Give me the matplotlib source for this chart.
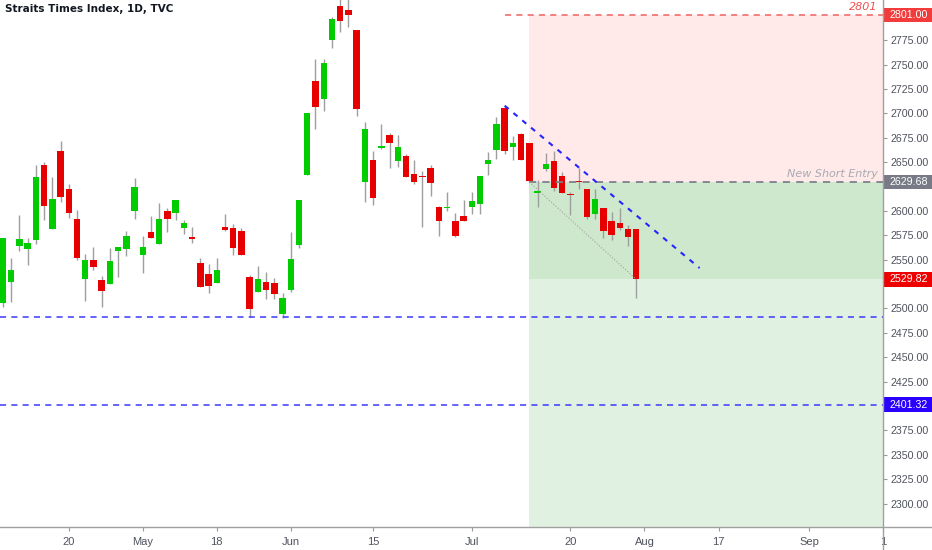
import matplotlib.pyplot as plt
import matplotlib.transforms as mtransforms
from matplotlib.patches import Rectangle
from matplotlib.lines import Line2D
import numpy as np

plt.rcParams['font.family'] = ['Liberation Sans', 'DejaVu Sans']

# daily candles (bar index 0 .. 77)
opens = [2506.0, 2527.5, 2564.4, 2561.0, 2570.3, 2647.2, 2581.5, 2661.5, 2622.6, 2591.8,
         2530.3, 2549.7, 2529.2, 2525.1, 2559.0, 2561.0, 2600.0, 2554.9, 2578.5, 2566.2,
         2600.0, 2597.9, 2582.6, 2573.3, 2546.7, 2535.4, 2526.2, 2583.6, 2582.9, 2579.5,
         2532.6, 2517.2, 2527.2, 2526.5, 2494.1, 2519.3, 2565.1, 2637.2, 2733.6, 2714.9,
         2775.7, 2810.5, 2805.8, 2785.3, 2629.7, 2652.6, 2664.9, 2677.9, 2651.0, 2656.4,
         2638.3, 2635.9, 2644.1, 2603.8, 2603.1, 2589.4, 2594.9, 2603.8, 2607.5, 2648.5,
         2662.3, 2705.3, 2665.3, 2679.0, 2669.7, 2618.2, 2643.4, 2651.6, 2635.9, 2617.4,
         2630.3, 2622.3, 2596.6, 2603.4, 2589.4, 2587.7, 2581.2, 2581.2]
highs = [2572.0, 2551.5, 2595.9, 2572.3, 2647.2, 2650.3, 2634.9, 2671.8, 2627.7, 2601.0,
         2555.9, 2563.1, 2533.3, 2562.1, 2563.1, 2579.5, 2633.8, 2574.4, 2594.9, 2608.2,
         2603.1, 2611.3, 2590.8, 2583.6, 2551.8, 2545.6, 2551.8, 2596.6, 2587.0, 2582.3,
         2534.4, 2543.9, 2537.1, 2531.3, 2516.2, 2578.2, 2611.3, 2700.2, 2755.6, 2755.9,
         2799.3, 2818.0, 2818.0, 2785.3, 2691.0, 2661.5, 2688.9, 2679.7, 2677.9, 2658.5,
         2652.6, 2641.0, 2647.2, 2605.1, 2619.5, 2597.6, 2611.3, 2619.2, 2636.2, 2660.5,
         2696.1, 2708.0, 2676.9, 2680.0, 2669.7, 2631.8, 2659.2, 2661.8, 2640.3, 2619.8,
         2644.4, 2622.3, 2622.6, 2603.4, 2599.0, 2603.1, 2585.9, 2581.2]
lows = [2501.8, 2506.4, 2559.3, 2544.6, 2566.2, 2590.8, 2581.5, 2609.2, 2592.8, 2550.0,
        2507.7, 2539.5, 2501.5, 2525.1, 2532.3, 2553.8, 2591.8, 2536.4, 2572.3, 2566.2,
        2578.5, 2590.8, 2576.4, 2567.2, 2522.1, 2515.9, 2526.2, 2579.5, 2554.9, 2555.0,
        2491.6, 2517.2, 2509.4, 2510.1, 2489.9, 2517.2, 2561.7, 2637.2, 2684.4, 2702.6,
        2766.9, 2783.6, 2789.0, 2697.4, 2608.9, 2605.8, 2663.9, 2643.8, 2645.4, 2634.9,
        2627.4, 2583.9, 2615.7, 2574.7, 2600.0, 2573.0, 2590.0, 2596.9, 2597.2, 2637.2,
        2653.0, 2658.1, 2652.3, 2652.3, 2629.7, 2604.4, 2641.0, 2620.5, 2618.5, 2595.9,
        2622.9, 2591.5, 2592.1, 2572.6, 2570.6, 2580.5, 2564.1, 2510.8]
closes = [2572.0, 2539.2, 2571.3, 2567.2, 2634.9, 2605.1, 2612.3, 2614.4, 2597.9, 2551.8,
          2549.7, 2542.6, 2518.0, 2548.7, 2563.1, 2574.4, 2624.6, 2563.1, 2572.3, 2591.8,
          2591.8, 2611.3, 2587.7, 2571.3, 2522.1, 2523.1, 2539.5, 2580.5, 2561.7, 2555.2,
          2499.8, 2530.0, 2519.3, 2515.2, 2510.5, 2550.5, 2611.3, 2700.2, 2707.0, 2751.5,
          2796.9, 2794.5, 2800.7, 2704.6, 2684.4, 2613.6, 2667.0, 2669.4, 2665.9, 2634.9,
          2629.7, 2634.9, 2628.7, 2589.7, 2604.4, 2574.1, 2590.0, 2609.9, 2636.2, 2652.6,
          2689.5, 2661.5, 2669.4, 2652.3, 2630.8, 2620.2, 2648.5, 2623.3, 2618.5, 2616.1,
          2629.4, 2594.2, 2612.3, 2579.2, 2575.4, 2582.9, 2573.3, 2529.82]

tick_pos = [8, 17, 26, 35, 45, 57, 69, 78, 87, 98, 107]
tick_labels = ['20', 'May', '18', 'Jun', '15', 'Jul', '20', 'Aug', '17', 'Sep', '1']
price_ticks = np.arange(2300, 2801, 25)
hidden_ticks = [2400, 2525, 2625, 2800]  # sit under the price boxes

# drawings
stop_price = 2801.00
entry_price = 2629.68
last_price = 2529.82
support_1 = 2491.3
support_2 = 2401.32
entry_bar = 64
stop_line_start = 61
trend_x = [61, 84.7]
trend_y = [2708.0, 2541.5]

green = '#00cc00'
red = '#e60000'
wick = '#9e9e9e'

fig = plt.figure(figsize=(9.32, 5.5), dpi=100)
ax = fig.add_axes([0, 23 / 550, 883 / 932, 527 / 550])
ax.set_xlim(-0.36, 107.0)
ax.set_ylim(2275.9, 2816.4)
for s in ax.spines.values():
    s.set_visible(False)

# position zones
ax.add_patch(Rectangle((entry_bar, entry_price), 200, stop_price - entry_price,
                       fc='#ffe9e9', ec='none', zorder=0))
ax.add_patch(Rectangle((entry_bar, last_price), 200, entry_price - last_price,
                       fc='#cde8cd', ec='none', zorder=0))
ax.add_patch(Rectangle((entry_bar, 2200), 200, last_price - 2200,
                       fc='#e1f1e1', ec='none', zorder=0))

# candles
x = np.arange(len(opens))
o = np.array(opens)
c = np.array(closes)
cols = [green if cc >= oo else red for oo, cc in zip(o, c)]
ax.vlines(x, lows, highs, color=wick, lw=1, zorder=2)
bottoms = np.minimum(o, c)
heights = np.maximum(np.abs(c - o), 1.2)
ax.bar(x, heights, bottom=bottoms, width=0.78, color=cols, edgecolor='none', zorder=3)

# lines
dash = (0, (4, 3.4))
ax.axhline(support_1, color='#3a3aff', lw=1.1, ls=dash, zorder=4)
ax.axhline(support_2, color='#3a3aff', lw=1.1, ls=dash, zorder=4)
ax.hlines(stop_price, stop_line_start, 110, color='#f06060', lw=1.1, ls=dash, zorder=4)
ax.hlines(entry_price, entry_bar, 110, color='#7d808a', lw=1.3, ls=dash, zorder=4)
ax.plot([entry_bar, len(opens) - 1], [entry_price, last_price], color='#a0a0a0',
        lw=0.8, ls=':', zorder=4)
ax.plot(trend_x, trend_y, color='#2424ff', lw=1.5, ls=(0, (2.5, 3)), zorder=4)

tr = mtransforms.blended_transform_factory(ax.transAxes, ax.transData)
ax.text(0.994, stop_price + 3.5, '2801', transform=tr, ha='right', va='bottom',
        color='#f05050', fontsize=8, style='italic', family='DejaVu Sans')
ax.text(0.994, entry_price + 3.5, 'New Short Entry', transform=tr, ha='right', va='bottom',
        color='#a8abb3', fontsize=8, style='italic', family='DejaVu Sans')

# axes ticks
ax.set_xticks(tick_pos)
ax.set_xticklabels(tick_labels)
ax.tick_params(axis='x', length=3, width=0.8, color='#9a9a9a', labelsize=8,
               labelcolor='#50535e', pad=4.5)
ax.yaxis.tick_right()
ax.set_yticks(price_ticks)
ax.set_yticklabels(['' if v in hidden_ticks else '%.2f' % v for v in price_ticks])
ax.tick_params(axis='y', length=3, width=0.8, color='#9a9a9a', labelsize=7.7,
               labelcolor='#50535e', pad=2.5)

# price labels on the scale
trf = mtransforms.blended_transform_factory(fig.transFigure, ax.transData)
for price, fc in [(stop_price, '#f23b3b'), (entry_price, '#787b86'),
                  (last_price, '#ee0000'), (support_2, '#2a00ff')]:
    ax.add_patch(Rectangle((884 / 932, price - 7.6), 48 / 932, 15.2, transform=trf,
                           fc=fc, ec='none', clip_on=False, zorder=10))
    ax.text(889.5 / 932, price, '%.2f' % price, transform=trf, ha='left', va='center',
            color='white', fontsize=7.7, zorder=11, clip_on=False)

# frame lines
fig.add_artist(Line2D([0, 1], [23 / 550, 23 / 550], color='#a0a0a0', lw=1))
fig.add_artist(Line2D([883 / 932, 883 / 932], [0, 1], color='#a0a0a0', lw=1))

fig.text(5 / 932, 1 - 9 / 550, 'Straits Times Index, 1D, TVC', ha='left', va='center',
         fontsize=7.5, fontweight='bold', color='#131722', family='DejaVu Sans')

plt.savefig('out.png', dpi=100)
